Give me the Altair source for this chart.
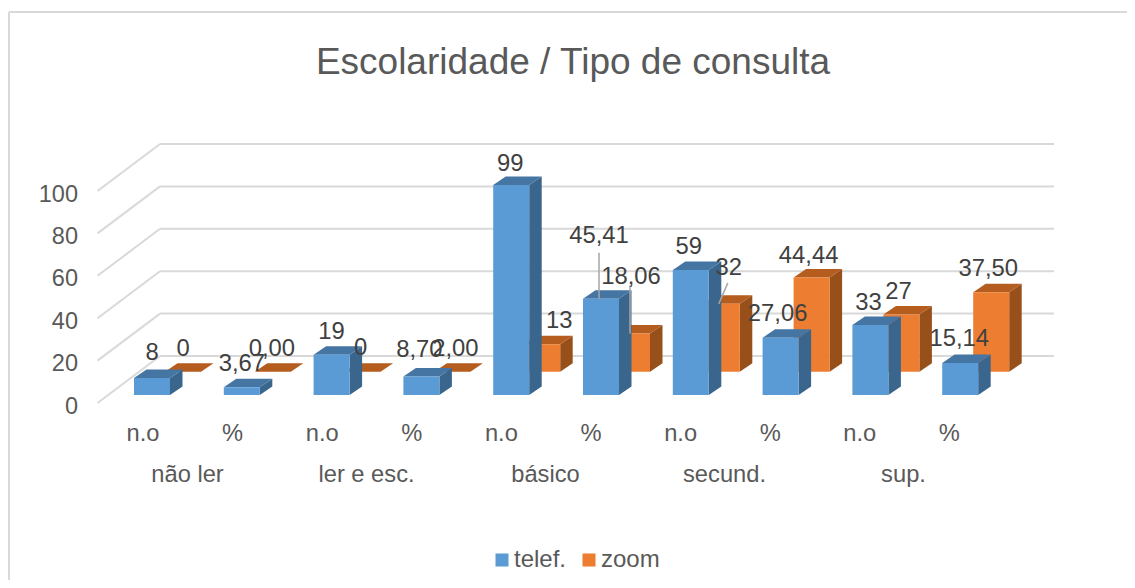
import altair as alt
import pandas as pd

# ---- data ----
title = "Escolaridade / Tipo de consulta"
groups = ["não ler", "ler e esc.", "básico", "secund.", "sup."]
measures = ["n.o", "%"] * 5
telef = [8, 3.67, 19, 8.70, 99, 45.41, 59, 27.06, 33, 15.14]
zoom = [0, 0, 0, 0, 13, 18.06, 32, 44.44, 27, 37.50]
telef_labels = ["8", "3,67", "19", "8,70", "99", "45,41", "59", "27,06", "33", "15,14"]
zoom_labels = ["0", "0,00", "0", "2,00", "13", "18,06", "32", "44,44", "27", "37,50"]
ticks = [0, 20, 40, 60, 80, 100]

# ---- layout (pixels of the 1135x588 picture) ----
W, H = 1119, 572
X0, STEP = 134.0, 89.8
Y0, UNIT = 395.0, 2.12
S = lambda px: (px - X0) / STEP
V = lambda py: (Y0 - py) / UNIT
BAR = 36 / STEP
DX, DV = 12.5 / STEP, 8.5 / UNIT
ZX, ZV = 31 / STEP, 23.3 / UNIT

telef_off = [(0, -27), (0, -25), (0, -24), (-2, -28), (-1, -23), (-2, -64), (-2, -24), (-3, -25), (-2, -24), (-1, -25)]
zoom_off = [(0, -24), (-1, -24), (-2, -25), (3, -24), (17, -25), (-1, -58), (7, -37), (-3, -23), (-3, -24), (-3, -25)]
# grey leader lines: (series, index, dx1, dy1, dx2, dy2) relative to bar top centre
leaders = [(0, 5, -2, -46, -2, 0), (1, 5, -2, -48, -2, 0), (1, 6, 6, -21, -3, 0)]

xs = alt.Scale(domain=[S(8), S(8 + W)], range=[0, W], nice=False, zero=False)
ys = alt.Scale(domain=[V(8 + H), V(8)], range=[H, 0], nice=False, zero=False)
X = lambda f="x": alt.X(f"{f}:Q", scale=xs, axis=None)
Y = lambda f="y": alt.Y(f"{f}:Q", scale=ys, axis=None)


def faces(values, xoff, voff):
    side, top, front = [], [], []
    for i, v in enumerate(values):
        a, base, t = i + xoff, voff, v + voff
        side += [dict(i=i, x=a + BAR, y=base, y2=t), dict(i=i, x=a + BAR + DX, y=base + DV, y2=t + DV)]
        top += [
            dict(i=i, x=a, y=t, y2=t),
            dict(i=i, x=a + DX, y=t, y2=t + DV),
            dict(i=i, x=a + BAR, y=t, y2=t + DV),
            dict(i=i, x=a + BAR + DX, y=t + DV, y2=t + DV),
        ]
        front.append(dict(x=a, x2=a + BAR, y=base, y2=t))
    return pd.DataFrame(side), pd.DataFrame(top), pd.DataFrame(front)


color = alt.Scale(domain=["telef.", "zoom"], range=["#5B9BD5", "#ED7D31"])
legend = alt.Legend(
    orient="none", legendX=482, legendY=540, direction="horizontal", title=None,
    symbolType="square", symbolSize=170, symbolStrokeWidth=0, labelFontSize=24,
    labelColor="#595959", labelFont="Liberation Sans", labelOffset=0, columnPadding=10,
    padding=0, offset=0,
)


def bars(values, xoff, voff, name, cside, ctop):
    side, top, front = faces(values, xoff, voff)
    front["series"] = name
    return [
        alt.Chart(side).mark_area(color=cside).encode(x=X(), y=Y(), y2="y2:Q", detail="i:N"),
        alt.Chart(top).mark_area(color=ctop).encode(x=X(), y=Y(), y2="y2:Q", detail="i:N"),
        alt.Chart(front).mark_rect().encode(
            x=X(), x2="x2:Q", y=Y(), y2="y2:Q",
            color=alt.Color("series:N", scale=color, legend=legend),
        ),
    ]


def text(df, size, col="#595959", align="center", dy=1.5):
    return alt.Chart(df).mark_text(
        font="Liberation Sans", fontSize=size, color=col, align=align, baseline="middle", dy=dy
    ).encode(x=X(), y=Y(), text="t:N")


def rules(df, col, width):
    return alt.Chart(df).mark_rule(color=col, strokeWidth=width).encode(x=X(), x2="x2:Q", y=Y(), y2="y2:Q")


# chart frame
frame = pd.DataFrame([
    dict(x=S(9), x2=S(8 + W), y=V(12), y2=V(12)),
    dict(x=S(9), x2=S(9), y=V(12), y2=V(8 + H)),
])
# walls
fx, bx, ex = S(97.5), S(160), S(1054)
wall = []
for t in ticks:
    fv = t + V(403)
    bv = t + V(356)
    wall.append(dict(x=fx, x2=bx, y=fv, y2=bv))
    wall.append(dict(x=bx, x2=ex, y=bv, y2=bv))
wall = pd.DataFrame(wall)

tick_df = pd.DataFrame([dict(x=S(78), y=t + V(403) - 0.5, t=str(t)) for t in ticks])
meas_df = pd.DataFrame([dict(x=S(143) + i * 89.6 / STEP, y=V(432), t=m) for i, m in enumerate(measures)])
group_df = pd.DataFrame([dict(x=S(187.5) + i * 179 / STEP, y=V(473), t=g) for i, g in enumerate(groups)])
title_df = pd.DataFrame([dict(x=S(573), y=V(61), t=title)])

lab = []
for i, (v, t, (dx, dy)) in enumerate(zip(telef, telef_labels, telef_off)):
    lab.append(dict(x=i + (BAR / 2) + dx / STEP, y=v - dy / UNIT, t=t))
for i, (v, t, (dx, dy)) in enumerate(zip(zoom, zoom_labels, zoom_off)):
    lab.append(dict(x=i + ZX + BAR / 2 + dx / STEP, y=v + ZV - dy / UNIT, t=t))
lab_df = pd.DataFrame(lab)

lead = []
for s, i, dx1, dy1, dx2, dy2 in leaders:
    v = (telef if s == 0 else zoom)[i]
    xo, vo = (0, 0) if s == 0 else (ZX, ZV)
    cx = i + xo + BAR / 2
    lead.append(dict(x=cx + dx1 / STEP, x2=cx + dx2 / STEP, y=v + vo - dy1 / UNIT, y2=v + vo - dy2 / UNIT))
lead_df = pd.DataFrame(lead)

layers = [
    rules(frame, "#D9D9D9", 2),
    rules(wall, "#D9D9D9", 2),
    *bars(zoom, ZX, ZV, "zoom", "#97501A", "#B55D1F"),
    *bars(telef, 0, 0, "telef.", "#3A658C", "#4575A3"),
    rules(lead_df, "#A6A6A6", 1.5),
    text(tick_df, 23.5, align="right", dy=2.5),
    text(meas_df, 23.7),
    text(group_df, 23.7),
    text(lab_df, 23.8, col="#404040", dy=1.5),
    text(title_df, 37, dy=2),
]

chart = alt.layer(*layers).properties(
    width=W, height=H, padding=0, autosize=alt.AutoSizeParams(type="none"), background="white"
).configure_view(strokeWidth=0)

chart.save("out.html", embed_options={"renderer": "svg", "actions": False})
